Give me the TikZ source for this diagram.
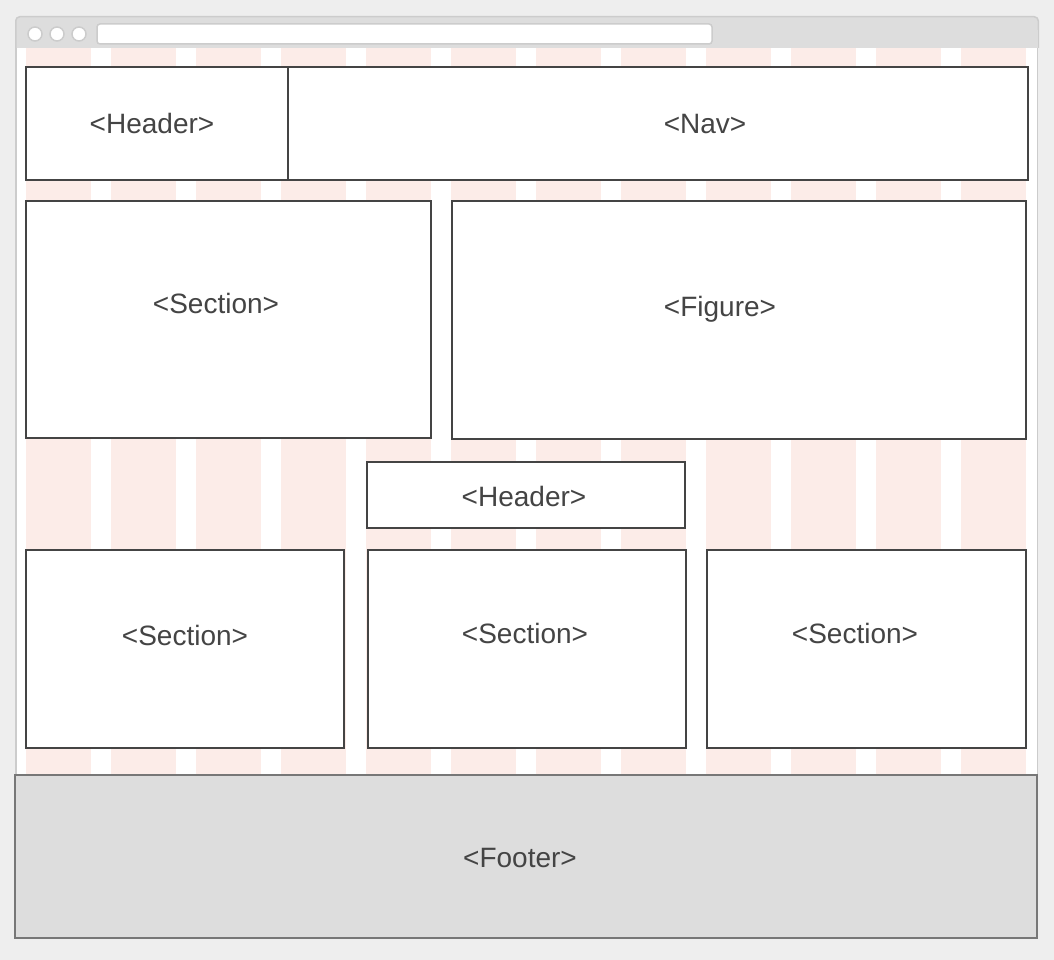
\documentclass[tikz,border=0pt]{standalone}
\usepackage{fontspec}
\setmainfont{Liberation Sans}
\definecolor{bgc}{HTML}{EEEEEE}
\definecolor{barc}{HTML}{DDDDDD}
\definecolor{edgec}{HTML}{CCCCCC}
\definecolor{stripec}{HTML}{FCECE8}
\definecolor{boxc}{HTML}{444444}
\definecolor{footc}{HTML}{777777}
\definecolor{txtc}{HTML}{444444}
\begin{document}
\begin{tikzpicture}[x=1pt,y=-1pt,
  box/.style={draw=boxc,line width=2pt,fill=white},
  lbl/.style={text=txtc,font=\fontsize{28}{32}\selectfont,inner sep=0pt,text height=20pt,text depth=0pt},
  dot/.style={circle,draw=edgec,line width=1.5pt,fill=white,minimum size=14pt,inner sep=0pt}]
\useasboundingbox (0,0) rectangle (1054,960);
\fill[bgc] (0,0) rectangle (1054,960);
% window
\fill[white] (15,48) rectangle (1038,938);
\draw[edgec,line width=1.5pt] (15.75,938) -- (15.75,48);
\draw[edgec,line width=1.5pt] (1037.25,938) -- (1037.25,48);
\filldraw[fill=barc,draw=edgec,line width=1.5pt,rounded corners=4pt] (15.75,48) -- (15.75,16.75) -- (1038.25,16.75) -- (1038.25,48);
\fill[barc] (16.5,30) rectangle (1037.5,48);
\node[dot] (d1) at (35,34) {};
\node[dot] (d2) at (57,34) {};
\node[dot] (d3) at (79,34) {};
\filldraw[fill=white,draw=edgec,line width=1.5pt,rounded corners=3pt] (97,24) rectangle (712,44);
% stripes
\foreach \i in {0,...,11} {
  \fill[stripec] ({26+85*\i},48) rectangle ({26+85*\i+65},775);
}
% boxes
\draw[box] (26,67) rectangle (288,180);
\draw[box] (288,67) rectangle (1028,180);
\draw[box] (26,201) rectangle (431,438);
\draw[box] (452,201) rectangle (1026,439);
\draw[box] (367,462) rectangle (685,528);
\draw[box] (26,550) rectangle (344,748);
\draw[box] (368,550) rectangle (686,748);
\draw[box] (707,550) rectangle (1026,748);
\draw[fill=barc,draw=footc,line width=2pt] (15,775) rectangle (1037,938);
% labels
\node[lbl] (hdr) at (152,124) {<Header>};
\node[lbl] (nav) at (705,124) {<Nav>};
\node[lbl] (sec) at (216,303) {<Section>};
\node[lbl] (fig) at (720,306) {<Figure>};
\node[lbl] (hdrb) at (524,496) {<Header>};
\node[lbl] (seca) at (185,635) {<Section>};
\node[lbl] (secb) at (525,633) {<Section>};
\node[lbl] (secc) at (855,633) {<Section>};
\node[lbl] (foot) at (520,857) {<Footer>};
\end{tikzpicture}
\end{document}
